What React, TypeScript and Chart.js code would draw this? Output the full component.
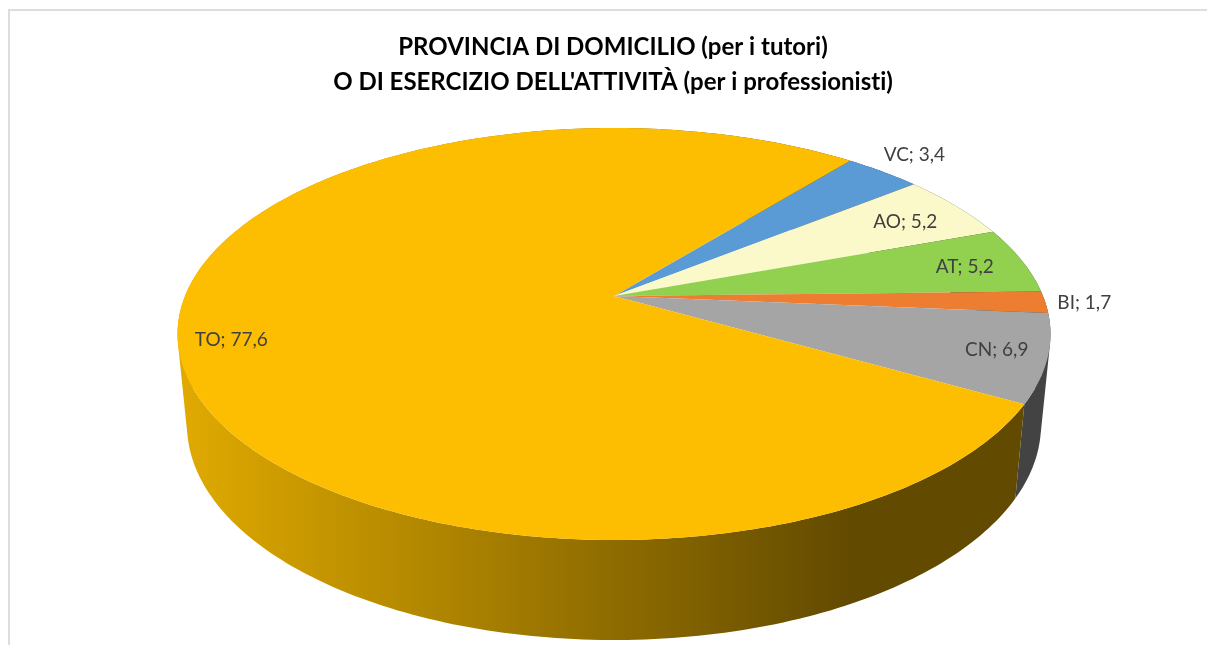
import React, { useEffect, useRef } from "react";
import { Chart, registerables, ArcElement, PieController } from "chart.js";

const titleLines = ["PROVINCIA DI DOMICILIO (per i tutori)", "O DI ESERCIZIO DELL'ATTIVITÀ (per i professionisti)"];
const categories = ["VC", "AO", "AT", "BI", "CN", "TO"];
const values = [3.4, 5.2, 5.2, 1.7, 6.9, 77.6];
const topColors = ["#5B9BD5", "#FBF9C9", "#92D050", "#ED7D31", "#A5A5A5", "#FDBD00"];
const labelRadii = [1.147, 0.83, 0.854, 1.09, 0.888, 0.883];
const labelAngleShift = [-0.5, 0.8, 0.5, 0, -0.3, -3.2];

// projection of the pie's circle onto the picture plane
const apex = { x: 614, y: 296 };
const PERSP = 0.1845;
const SCALE_X = 429;
const SCALE_Y = 199;
const rimTop = { cy: 334, rx: 436.5, ry: 206 };
const rimBottom = { cy: 425, rx: 427, ry: 215 };

function project(angle: number, r = 1) {
  const u = Math.cos(angle) * r;
  const v = -Math.sin(angle) * r;
  const w = 1 + PERSP * v;
  return { x: apex.x + (SCALE_X * u) / w, y: apex.y - (SCALE_Y * v) / w };
}
function toBottom(p: { x: number; y: number }) {
  return {
    x: apex.x + ((p.x - apex.x) * rimBottom.rx) / rimTop.rx,
    y: rimBottom.cy + ((p.y - rimTop.cy) * rimBottom.ry) / rimTop.ry,
  };
}
function rimPoints(start: number, end: number) {
  const n = Math.max(4, Math.ceil(((end - start) * 180) / Math.PI));
  const pts = [];
  for (let i = 0; i <= n; i++) pts.push(project(start + ((end - start) * i) / n));
  return pts;
}

class Arc3D extends ArcElement {
  static id = "arc3d";
  draw(ctx: CanvasRenderingContext2D) {
    const { startAngle, endAngle } = this as any;
    ctx.save();
    ctx.beginPath();
    ctx.moveTo(apex.x, apex.y);
    rimPoints(startAngle, endAngle).forEach((p) => ctx.lineTo(p.x, p.y));
    ctx.closePath();
    ctx.fillStyle = (this as any).options.backgroundColor;
    ctx.fill();
    ctx.restore();
  }
}
class Pie3D extends PieController {
  static id = "pie3d";
  static defaults = { dataElementType: "arc3d" };
}

const framePlugin = {
  id: "frame",
  beforeDraw(chart: any) {
    const { ctx, width, height } = chart;
    ctx.save();
    ctx.fillStyle = "#FFFFFF";
    ctx.fillRect(0, 0, width, height);
    ctx.strokeStyle = "#DDDDDD";
    ctx.lineWidth = 2;
    ctx.beginPath();
    ctx.moveTo(9, height);
    ctx.lineTo(9, 10);
    ctx.lineTo(width, 10);
    ctx.stroke();
    ctx.restore();
    ctx.letterSpacing = "0.001px";
  },
};

const wallPlugin = {
  id: "wall",
  beforeDatasetsDraw(chart: any) {
    const { ctx } = chart;
    const arcs = chart.getDatasetMeta(0).data;
    const last = arcs.length - 1;
    ctx.save();
    arcs.forEach((arc: any, i: number) => {
      const pts = rimPoints(arc.startAngle, arc.endAngle);
      ctx.beginPath();
      for (let k = 0; k < pts.length - 1; k++) {
        const q = [pts[k], pts[k + 1], toBottom(pts[k + 1]), toBottom(pts[k])];
        let area = 0;
        q.forEach((a, j) => {
          const b = q[(j + 1) % 4];
          area += a.x * b.y - b.x * a.y;
        });
        if (area < 0) q.reverse();
        q.forEach((p, j) => (j ? ctx.lineTo(p.x, p.y) : ctx.moveTo(p.x, p.y)));
        ctx.closePath();
      }
      if (i === last) {
        const g = ctx.createLinearGradient(180, 0, 850, 0);
        g.addColorStop(0, "#E0AA00");
        g.addColorStop(1, "#624A00");
        ctx.fillStyle = g;
      } else {
        ctx.fillStyle = "#434343";
      }
      ctx.fill();
    });
    ctx.restore();
  },
};

const labelPlugin = {
  id: "sliceLabels",
  afterDatasetsDraw(chart: any) {
    const { ctx } = chart;
    const arcs = chart.getDatasetMeta(0).data;
    ctx.save();
    ctx.font = "19px Lato";
    ctx.fillStyle = "#404040";
    ctx.textAlign = "center";
    ctx.textBaseline = "middle";
    arcs.forEach((arc: any, i: number) => {
      const mid = (arc.startAngle + arc.endAngle) / 2 + (labelAngleShift[i] * Math.PI) / 180;
      const p = project(mid, labelRadii[i]);
      ctx.fillText(`${categories[i]}; ${String(values[i]).replace(".", ",")}`, p.x, p.y);
    });
    ctx.restore();
  },
};

Chart.register(...registerables, Arc3D, Pie3D);

export default function App() {
  const ref = useRef<HTMLCanvasElement>(null);
  useEffect(() => {
    document.body.style.margin = "0";
    const chart = new Chart(ref.current!, {
      type: "pie3d" as any,
      data: {
        labels: categories,
        datasets: [{ data: values, backgroundColor: topColors, borderWidth: 0 }],
      },
      options: {
        responsive: false,
        animation: false,
        rotation: 39,
        layout: { padding: { top: 30, left: 19 } },
        plugins: {
          legend: { display: false },
          tooltip: { enabled: false },
          title: {
            display: true,
            text: titleLines,
            color: "#000000",
            font: { family: "Lato", size: 24, weight: "bold", lineHeight: 1.45 },
            padding: 0,
          },
        },
      } as any,
      plugins: [framePlugin, wallPlugin, labelPlugin],
    });
    return () => chart.destroy();
  }, []);
  return <canvas ref={ref} width={1207} height={645} style={{ display: "block", width: 1207, height: 645 }} />;
}
